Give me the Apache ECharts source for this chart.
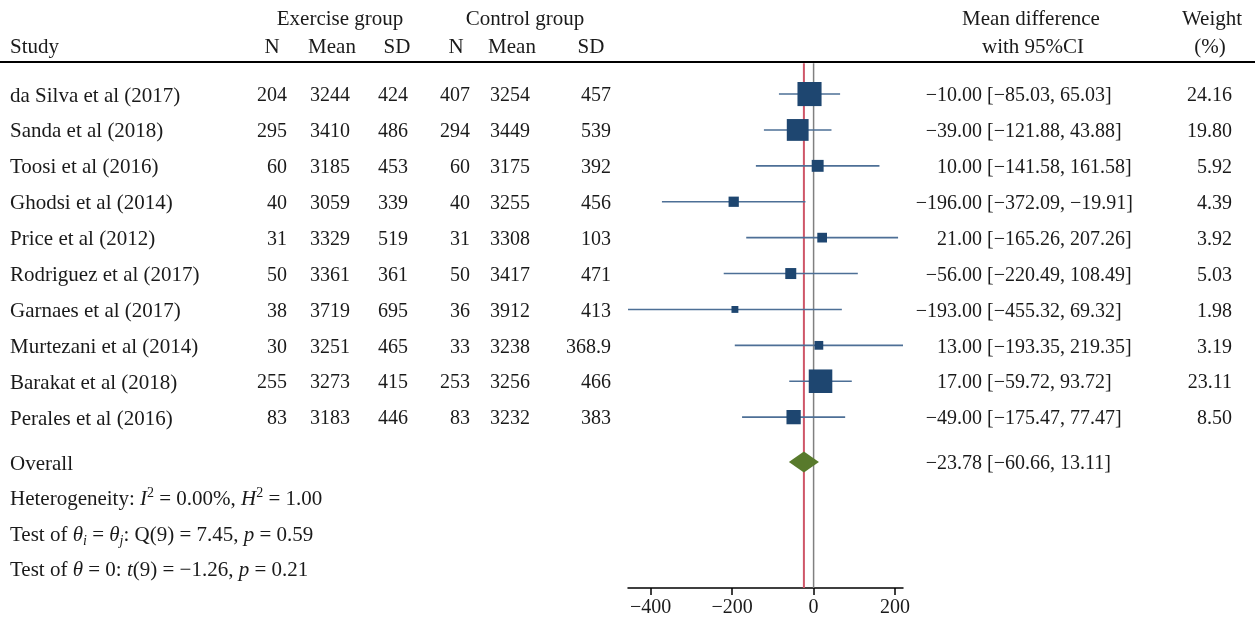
<!DOCTYPE html>
<html>
<head>
<meta charset="utf-8">
<script src="https://cdn.jsdelivr.net/npm/echarts@6/dist/echarts.min.js"></script>
<style>
html,body{margin:0;padding:0;background:#fff;}
#main{width:1255px;height:622px;}
</style>
</head>
<body>
<div id="main"></div>
<script>
// ---------------- DATA ----------------
var studies = ['da Silva et al (2017)','Sanda et al (2018)','Toosi et al (2016)','Ghodsi et al (2014)','Price et al (2012)','Rodriguez et al (2017)','Garnaes et al (2017)','Murtezani et al (2014)','Barakat et al (2018)','Perales et al (2016)'];
var expN    = [204, 295, 60, 40, 31, 50, 38, 30, 255, 83];
var expMean = [3244, 3410, 3185, 3059, 3329, 3361, 3719, 3251, 3273, 3183];
var expSD   = [424, 486, 453, 339, 519, 361, 695, 465, 415, 446];
var ctlN    = [407, 294, 60, 40, 31, 50, 36, 33, 253, 83];
var ctlMean = [3254, 3449, 3175, 3255, 3308, 3417, 3912, 3238, 3256, 3232];
var ctlSD   = ['457', '539', '392', '456', '103', '471', '413', '368.9', '466', '383'];
var meanDiff = [-10.00, -39.00, 10.00, -196.00, 21.00, -56.00, -193.00, 13.00, 17.00, -49.00];
var ciLow    = [-85.03, -121.88, -141.58, -372.09, -165.26, -220.49, -455.32, -193.35, -59.72, -175.47];
var ciHigh   = [65.03, 43.88, 161.58, -19.91, 207.26, 108.49, 69.32, 219.35, 93.72, 77.47];
var weights  = [24.16, 19.80, 5.92, 4.39, 3.92, 5.03, 1.98, 3.19, 23.11, 8.50];
var overallMD = -23.78, overallLow = -60.66, overallHigh = 13.11;
var xTicks = [-400, -200, 0, 200];
var statLines = [
  'Heterogeneity: {i|I}{sup|2} = 0.00%, {i|H}{sup|2} = 1.00',
  'Test of {i|θ}{sub|i} = {i|θ}{sub|j}: Q(9) = 7.45, {i|p} = 0.59',
  'Test of {i|θ} = 0: {i|t}(9) = −1.26, {i|p} = 0.21'
];

// ---------------- LAYOUT ----------------
var FONT = '"Liberation Serif","Times New Roman",serif';
var FS_NUM = 20, FS_TXT = 21;
var rowTop = -2.62, rowBottom = 13.76;
var headerRow1 = -2.14, headerRow2 = -1.36, ruleRow = -0.89;
var overallRow = 10.25, statRows = [11.23, 12.23, 13.23];
var xMin = -455.32, xMax = 219.35;
var cols = { study: 10, eN: 287, eMean: 350, eSD: 408, cN: 470, cMean: 530, cSD: 611, md: 982, ci: 987, w: 1232 };

function fmt(v){ var s = Math.abs(v).toFixed(2); return (v < 0 ? '\u2212' : '') + s; }
function fmtTick(v){ return (v < 0 ? '\u2212' : '') + Math.abs(v); }

var rows = studies.map(function(s, i){ return i; });

// texts: [x, row, text, align, fontSize]
var texts = [];
texts.push([340, headerRow1, 'Exercise group', 'center', FS_TXT]);
texts.push([525, headerRow1, 'Control group', 'center', FS_TXT]);
texts.push([1031, headerRow1, 'Mean difference', 'center', FS_TXT]);
texts.push([1212, headerRow1, 'Weight', 'center', FS_TXT]);
texts.push([cols.study, headerRow2, 'Study', 'left', FS_TXT]);
[['N',272],['Mean',332],['SD',397],['N',456],['Mean',512],['SD',591]].forEach(function(h){ texts.push([h[1], headerRow2, h[0], 'center', FS_TXT]); });
texts.push([1033, headerRow2, 'with 95%CI', 'center', FS_TXT]);
texts.push([1210, headerRow2, '(%)', 'center', FS_TXT]);
rows.forEach(function(i){
  texts.push([cols.study, i, studies[i], 'left', FS_TXT]);
  texts.push([cols.eN, i, String(expN[i]), 'right', FS_NUM]);
  texts.push([cols.eMean, i, String(expMean[i]), 'right', FS_NUM]);
  texts.push([cols.eSD, i, String(expSD[i]), 'right', FS_NUM]);
  texts.push([cols.cN, i, String(ctlN[i]), 'right', FS_NUM]);
  texts.push([cols.cMean, i, String(ctlMean[i]), 'right', FS_NUM]);
  texts.push([cols.cSD, i, ctlSD[i], 'right', FS_NUM]);
  texts.push([cols.md, i, fmt(meanDiff[i]), 'right', FS_NUM]);
  texts.push([cols.ci, i, '[' + fmt(ciLow[i]) + ', ' + fmt(ciHigh[i]) + ']', 'left', FS_NUM]);
  texts.push([cols.w, i, weights[i].toFixed(2), 'right', FS_NUM]);
});
texts.push([cols.study, overallRow, 'Overall', 'left', FS_TXT]);
texts.push([cols.md, overallRow, fmt(overallMD), 'right', FS_NUM]);
texts.push([cols.ci, overallRow, '[' + fmt(overallLow) + ', ' + fmt(overallHigh) + ']', 'left', FS_NUM]);
statLines.forEach(function(t, k){ texts.push([cols.study, statRows[k], t, 'left', FS_TXT]); });

var rich = {
  i: { fontFamily: FONT, fontSize: FS_TXT, fontStyle: 'italic', fill: '#1a1a1a', lineHeight: 26 },
  sup: { fontFamily: FONT, fontSize: 14, fill: '#1a1a1a', verticalAlign: 'top', lineHeight: 14 },
  sub: { fontFamily: FONT, fontSize: 14, fontStyle: 'italic', fill: '#1a1a1a', verticalAlign: 'bottom', lineHeight: 14 }
};

var forestData = rows.map(function(i){ return [meanDiff[i], i, ciLow[i], ciHigh[i], weights[i]]; });

var chart = echarts.init(document.getElementById('main'), null, { renderer: 'canvas' });
chart.setOption({
  backgroundColor: '#fff',
  animation: false,
  grid: [
    { left: 0, right: 0, top: 0, bottom: 34 },
    { left: 628, right: 352, top: 0, bottom: 34 }
  ],
  xAxis: [
    { gridIndex: 0, type: 'value', min: 0, max: 1255, show: false },
    { gridIndex: 1, type: 'value', min: xMin, max: xMax,
      axisLine: { show: true, onZero: false, lineStyle: { color: '#000', width: 1.5 } },
      axisTick: { show: true, customValues: xTicks, length: 7, lineStyle: { color: '#000', width: 1.5 } },
      axisLabel: { customValues: xTicks, formatter: fmtTick, fontFamily: FONT, fontSize: FS_NUM, color: '#1a1a1a', margin: 10 },
      splitLine: { show: false } }
  ],
  yAxis: [
    { gridIndex: 0, type: 'value', min: rowTop, max: rowBottom, inverse: true, show: false },
    { gridIndex: 1, type: 'value', min: rowTop, max: rowBottom, inverse: true, show: false }
  ],
  series: [
    // header rule
    { type: 'custom', xAxisIndex: 0, yAxisIndex: 0, data: [[0, ruleRow]], silent: true,
      renderItem: function(params, api){
        var a = api.coord([0, ruleRow]), b = api.coord([1255, ruleRow]);
        return { type: 'line', shape: { x1: a[0], y1: a[1], x2: b[0], y2: b[1] }, style: { stroke: '#000', lineWidth: 2 } };
      } },
    // reference lines
    { type: 'custom', xAxisIndex: 1, yAxisIndex: 1, data: [[0], [overallMD]], silent: true, clip: false,
      renderItem: function(params, api){
        var v = api.value(0);
        var a = api.coord([v, ruleRow + 0.03]), b = api.coord([v, rowBottom]);
        var d = params.dataIndex === 0 ? ['#808080', 1.5] : ['#cf5668', 2];
        return { type: 'line', shape: { x1: a[0], y1: a[1], x2: b[0], y2: b[1] }, style: { stroke: d[0], lineWidth: d[1] } };
      } },
    // CI lines + squares
    { type: 'custom', xAxisIndex: 1, yAxisIndex: 1, data: forestData, clip: false,
      renderItem: function(params, api){
        var md = api.value(0), r = api.value(1), lo = api.value(2), hi = api.value(3), w = api.value(4);
        var p = api.coord([md, r]), pl = api.coord([lo, r]), ph = api.coord([hi, r]);
        var s = 4.9 * Math.sqrt(w);
        return { type: 'group', children: [
          { type: 'line', shape: { x1: pl[0], y1: pl[1], x2: ph[0], y2: ph[1] }, style: { stroke: '#4d6f96', lineWidth: 1.6 } },
          { type: 'rect', shape: { x: p[0] - s/2, y: p[1] - s/2, width: s, height: s }, style: { fill: '#1e4670' } }
        ]};
      } },
    // overall diamond
    { type: 'custom', xAxisIndex: 1, yAxisIndex: 1, data: [[overallMD, overallRow, overallLow, overallHigh]], clip: false,
      renderItem: function(params, api){
        var r = api.value(1);
        var c = api.coord([api.value(0), r]), l = api.coord([api.value(2), r]), h = api.coord([api.value(3), r]);
        var hh = 10.5;
        return { type: 'polygon', shape: { points: [[l[0], c[1]], [c[0], c[1] - hh], [h[0], c[1]], [c[0], c[1] + hh]] }, style: { fill: '#587a2c' } };
      } },
    // texts
    { type: 'custom', xAxisIndex: 0, yAxisIndex: 0, data: texts.map(function(t, k){ return [t[0], t[1], k]; }), clip: false, silent: true,
      renderItem: function(params, api){
        var t = texts[params.dataIndex];
        var p = api.coord([t[0], t[1]]);
        return { type: 'text', x: p[0], y: p[1] + 2, style: { text: t[2], fontFamily: FONT, fontSize: t[4], fill: '#1a1a1a', align: t[3], verticalAlign: 'middle', lineHeight: 26, rich: rich } };
      } }
  ]
});
</script>
</body>
</html>
